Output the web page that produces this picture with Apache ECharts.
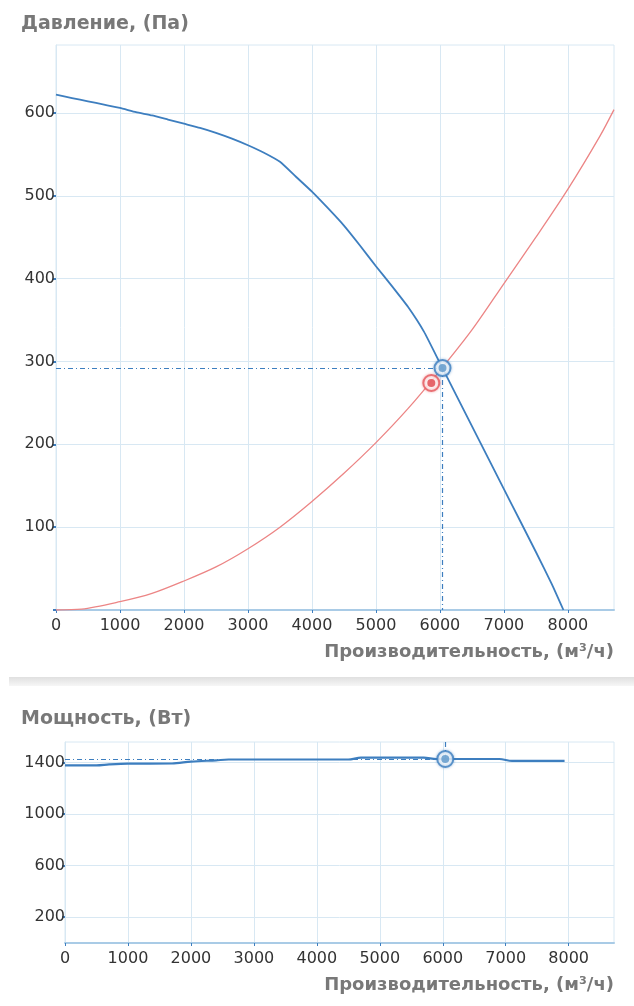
<!DOCTYPE html>
<html>
<head>
<meta charset="utf-8">
<title>Давление / Мощность</title>
<script src="https://cdn.jsdelivr.net/npm/echarts@6/dist/echarts.min.js"></script>
<style>
  html, body { margin: 0; padding: 0; background: #fff; }
  #chart { width: 634px; height: 1006px; }
</style>
</head>
<body>
<div id="chart"></div>
<script>
// axis ticks
const flowTicks = [0, 1000, 2000, 3000, 4000, 5000, 6000, 7000, 8000];
const pressureTicks = [100, 200, 300, 400, 500, 600];
const powerTicks = [200, 600, 1000, 1400];

// fan curve, Па
const fanFlow = [0, 250, 500, 750, 1000, 1250, 1500, 1750, 2000, 2250, 2500, 2750, 3000, 3250, 3500, 3750, 4000, 4250, 4500, 4750, 5000, 5250, 5500, 5750, 6000, 6040, 6250, 6500, 6750, 7000, 7250, 7500, 7750, 7930];
const fanPressure = [622, 618, 614, 610, 606, 601, 597, 592, 587, 582, 576, 569, 561, 552, 541, 523, 505, 485, 464, 440, 415, 391, 366, 336, 298, 292, 260, 222, 184, 146, 108, 70, 31, 0];

// network curve, Па
const netFlow = [0, 400, 1000, 1500, 2000, 2500, 3000, 3500, 4000, 4500, 5000, 5500, 6000, 6500, 7000, 7500, 8000, 8500, 8720];
const netPressure = [0, 1, 10, 20, 35, 52, 74, 100, 131, 165, 202, 243, 289, 338, 394, 450, 508, 572, 604];

// power curve, Вт
const powerFlow = [0, 500, 700, 1000, 1700, 2000, 2400, 2600, 4500, 4700, 5700, 5900, 6900, 7100, 7935];
const powerValue = [1379, 1379, 1386, 1392, 1393, 1408, 1418, 1424, 1424, 1438, 1438, 1428, 1428, 1413, 1413];

// operating point and required point
const opFlow = 6040;
const opPressure = 292;
const opPower = 1428;
const reqFlow = 5865;
const reqPressure = 274;

const flowMax = 8720;
const pressureMax = 682;
const powerMax = 1560;

const zip = (xs, ys) => xs.map((x, i) => [x, ys[i]]);
const plain = (v) => String(v);

const BLUE = "#3d7ebf";
const RED = "#e5585c";
const GRID_LINE = "#d8e8f3";
const TEXT = "#333";
const TITLE = "#787878";
const FONT = "DejaVu Sans";

const chart = echarts.init(document.getElementById("chart"));

const dashDot = { color: BLUE, width: 1.2, type: [5, 3, 1, 3] };

function xAxisFor (gridIndex) {
  return {
    type: "value",
    gridIndex,
    min: 0,
    max: flowMax,
    name: "Производительность, (м³/ч)",
    nameLocation: "end",
    nameGap: 0,
    nameTextStyle: {
      color: TITLE,
      fontFamily: FONT,
      fontWeight: "bold",
      fontSize: 18,
      align: "right",
      verticalAlign: "top",
      padding: [33, 0, 0, 0],
    },
    axisLine: { lineStyle: { color: "#a9cbe6", width: 2 } },
    axisTick: { length: 3, customValues: flowTicks, lineStyle: { color: BLUE, width: 1 } },
    axisLabel: { customValues: flowTicks, formatter: plain, color: TEXT, fontFamily: FONT, fontSize: 16, margin: 8 },
    splitLine: { lineStyle: { color: GRID_LINE } },
  };
}

function markerRing (xi, yi, point, ring, dot, glow) {
  return [
    {
      type: "scatter",
      xAxisIndex: xi,
      yAxisIndex: yi,
      data: [point],
      symbolSize: 16,
      itemStyle: { color: "#fff", borderColor: ring, borderWidth: 2, shadowBlur: 3, shadowColor: glow },
      z: 7,
    },
    {
      type: "scatter",
      xAxisIndex: xi,
      yAxisIndex: yi,
      data: [point],
      symbolSize: 8,
      itemStyle: { color: dot },
      z: 8,
    }
  ];
}

let option = {
  animation: false,
  backgroundColor: "#fff",
  title: [
    {
      text: "Давление, (Па)",
      left: 21,
      top: 15,
      padding: 0,
      textStyle: { color: TITLE, fontFamily: FONT, fontWeight: "bold", fontSize: 19 },
    },
    {
      text: "Мощность, (Вт)",
      left: 21,
      top: 710,
      padding: 0,
      textStyle: { color: TITLE, fontFamily: FONT, fontWeight: "bold", fontSize: 19 },
    }
  ],
  graphic: [
    {
      type: "rect",
      shape: { x: 9, y: 677, width: 625, height: 9 },
      style: {
        fill: new echarts.graphic.LinearGradient(0, 0, 0, 1, [
          { offset: 0, color: "#e0e0e0" },
          { offset: 1, color: "#f6f6f6" }
        ]),
      },
      z: -1,
    }
  ],
  grid: [
    { left: 56, right: 20, top: 45, height: 565, show: true, borderColor: GRID_LINE, borderWidth: 1 },
    { left: 65, right: 20, top: 742, height: 201, show: true, borderColor: GRID_LINE, borderWidth: 1 }
  ],
  xAxis: [xAxisFor(0), xAxisFor(1)],
  yAxis: [
    {
      type: "value",
      gridIndex: 0,
      min: 0,
      max: pressureMax,
      axisLine: { show: true, lineStyle: { color: GRID_LINE } },
      axisTick: { show: true, length: 3, customValues: [0].concat(pressureTicks), lineStyle: { color: BLUE, width: 2 } },
      axisLabel: { customValues: pressureTicks, formatter: plain, color: TEXT, fontFamily: FONT, fontSize: 16, margin: 1 },
      splitLine: { lineStyle: { color: GRID_LINE } },
    },
    {
      type: "value",
      gridIndex: 1,
      min: 0,
      max: powerMax,
      axisLine: { show: true, lineStyle: { color: GRID_LINE } },
      axisTick: { show: true, length: 3, customValues: powerTicks, lineStyle: { color: BLUE, width: 2 } },
      axisLabel: { customValues: powerTicks, formatter: plain, color: TEXT, fontFamily: FONT, fontSize: 16, margin: 0 },
      splitLine: { lineStyle: { color: GRID_LINE } },
    }
  ],
  series: [
    {
      name: "fan",
      type: "line",
      xAxisIndex: 0,
      yAxisIndex: 0,
      data: zip(fanFlow, fanPressure),
      showSymbol: false,
      smooth: 0.15,
      lineStyle: { color: BLUE, width: 1.8 },
      markLine: {
        silent: true,
        symbol: "none",
        label: { show: false },
        lineStyle: dashDot,
        data: [
          [{ coord: [0, opPressure] }, { coord: [opFlow, opPressure] }],
          [{ coord: [opFlow, opPressure] }, { coord: [opFlow, 0] }]
        ],
      },
      z: 3,
    },
    {
      name: "network",
      type: "line",
      xAxisIndex: 0,
      yAxisIndex: 0,
      data: zip(netFlow, netPressure),
      showSymbol: false,
      smooth: 0.3,
      lineStyle: { color: "#ec8585", width: 1.3 },
      z: 2,
    },
    ...markerRing(0, 0, [reqFlow, reqPressure], RED, "#e0444a", "rgba(229,88,92,0.5)"),
    ...markerRing(0, 0, [opFlow, opPressure], BLUE, "#5a95c8", "rgba(61,126,191,0.5)"),
    {
      name: "power",
      type: "line",
      xAxisIndex: 1,
      yAxisIndex: 1,
      data: zip(powerFlow, powerValue),
      showSymbol: false,
      smooth: 0.3,
      lineStyle: { color: BLUE, width: 2.2 },
      markLine: {
        silent: true,
        symbol: "none",
        label: { show: false },
        lineStyle: dashDot,
        data: [
          [{ coord: [0, opPower] }, { coord: [opFlow, opPower] }],
          [{ coord: [opFlow, opPower] }, { coord: [opFlow, powerMax] }]
        ],
      },
      z: 3,
    },
    ...markerRing(1, 1, [opFlow, opPower], BLUE, "#5a95c8", "rgba(61,126,191,0.5)")
  ],
};

chart.setOption(option);

window.addEventListener("resize", () => {
  chart.resize();
});
</script>
</body>
</html>
